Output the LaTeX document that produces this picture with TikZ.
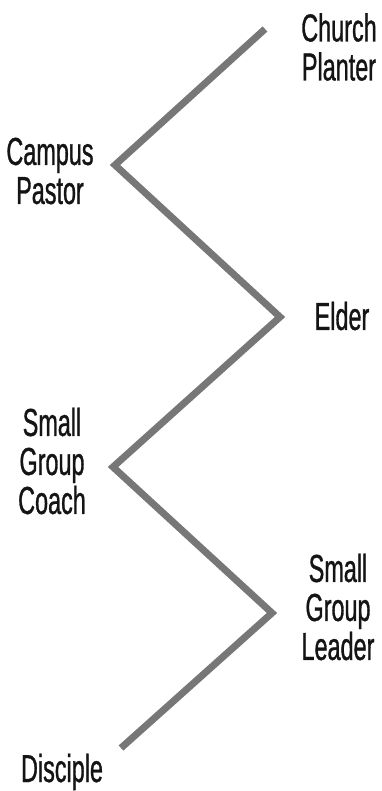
\documentclass[tikz,border=0pt]{standalone}
\usepackage{fontspec}
\setmainfont{Liberation Sans}[FakeStretch=0.6,FakeBold=0.8]
\definecolor{zigline}{HTML}{777777}
\definecolor{labeltext}{HTML}{141414}
\begin{document}
\begin{tikzpicture}[x=1bp,y=-1bp,
  zig/.style={draw=zigline,line width=7bp,miter limit=10},
  lbl/.style={text=labeltext,align=center,inner sep=0pt,
    font=\fontsize{39bp}{39bp}\selectfont}]
\useasboundingbox (0,0) rectangle (381,791);
\coordinate (top) at (265,29);
\coordinate (vcampus) at (115,165);
\coordinate (velder) at (280,317);
\coordinate (vcoach) at (113,467);
\coordinate (vleader) at (272,613);
\coordinate (bottom) at (121,748);
\draw[zig] (top) -- (vcampus) -- (velder) -- (vcoach) -- (vleader) -- (bottom);
\node[lbl] (church) at (339,47) {Church\\Planter};
\node[lbl] (campus) at (50,171) {Campus\\Pastor};
\node[lbl] (elder) at (342,316) {Elder};
\node[lbl] (coach) at (52,461) {Small\\Group\\Coach};
\node[lbl] (leader) at (338,607) {Small\\Group\\Leader};
\node[lbl,anchor=base] (disciple) at (62,782) {Disciple};
\end{tikzpicture}
\end{document}
